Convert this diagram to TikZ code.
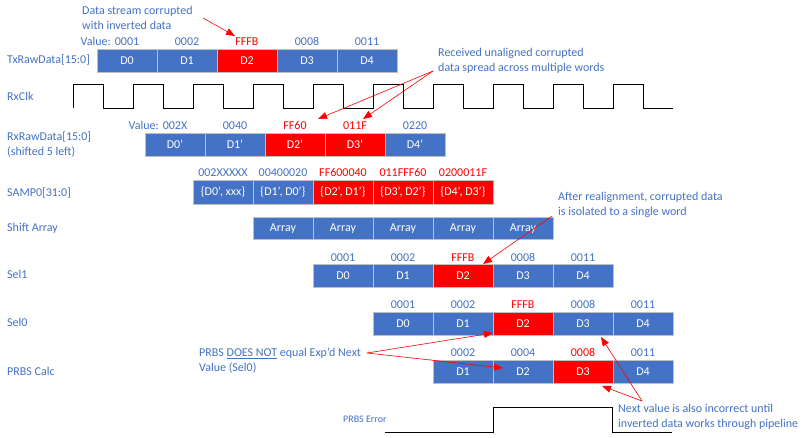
\documentclass[tikz,border=0pt]{standalone}
\usepackage{fontspec}
\setmainfont{Carlito}
\usetikzlibrary{arrows.meta}
\definecolor{obl}{HTML}{4472C4}
\definecolor{ored}{HTML}{FF0000}
\definecolor{obrd}{HTML}{BFBFBF}
\begin{document}
\begin{tikzpicture}[x=1pt,y=-1pt,
  every node/.style={inner sep=0pt, font=\fontsize{12}{14.3}\selectfont},
  cell/.style={draw=obrd, line width=0.9pt, minimum width=60pt, minimum height=23pt, text=white, text height=7.8pt, text depth=0pt},
  cb/.style={cell, fill=obl},
  cr/.style={cell, fill=ored},
  val/.style={text height=7.8pt, text depth=0pt},
  vb/.style={val, text=obl},
  vr/.style={val, text=ored},
  lbl/.style={anchor=west, text=obl, text height=7.8pt, text depth=0pt},
  note/.style={anchor=base west, text=obl, align=left},
  wave/.style={draw=black, line width=1pt},
  callout/.style={draw=ored, line width=0.6pt, -{Triangle[length=9pt,width=7pt]}}
]
\fill[white] (0,0) rectangle (805,437);
\useasboundingbox (0,0) rectangle (805,437);

% row labels
\node[lbl] (lTx) at (7,60) {TxRawData[15:0]};
\node[lbl] (lClk) at (7,97) {RxClk};
\node[note] (lRx) at (7,155) {RxRawData[15:0]\\(shifted 5 left)};
\node[lbl] (lSamp) at (7,193) {SAMP0[31:0]};
\node[lbl] (lShift) at (7,228) {Shift Array};
\node[lbl] (lSel1) at (7,275) {Sel1};
\node[lbl] (lSel0) at (7,323) {Sel0};
\node[lbl] (lPrbs) at (7,372) {PRBS Calc};
\node[lbl, font=\fontsize{10}{12}\selectfont] (lErr) at (343,419) {PRBS Error};

% TxRawData
\node[vb, anchor=east] (vTx) at (111,42) {Value:};
\foreach [count=\k from 0] \t/\c/\v in {D0/b/0001,D1/b/0002,D2/r/FFFB,D3/b/0008,D4/b/0011}{
  \node[c\c] (tx\k) at (127+60*\k,60.5) {\t};
  \node[v\c] (txv\k) at (127+60*\k,42) {\v};
}

% RxClk
\draw[wave] (73,108) \foreach \i in {0,...,9}{ -- ++(0,-24) -- ++(30,0) -- ++(0,24) -- ++(30,0)};

% RxRawData
\node[vb, anchor=east] (vRx) at (159,126) {Value:};
\foreach [count=\k from 0] \t/\c/\v in {D0'/b/002X,D1'/b/0040,D2'/r/FF60,D3'/r/011F,D4'/b/0220}{
  \node[c\c] (rx\k) at (175+60*\k,144.5) {\t};
  \node[v\c] (rxv\k) at (175+60*\k,126) {\v};
}

% SAMP0
\foreach [count=\k from 0] \t/\c/\v in {{\{D0', xxx\}}/b/002XXXXX,{\{D1', D0'\}}/b/00400020,{\{D2', D1'\}}/r/FF600040,{\{D3', D2'\}}/r/011FFF60,{\{D4', D3'\}}/r/0200011F}{
  \node[c\c, minimum height=24pt] (sp\k) at (223+60*\k,192) {\t};
  \node[v\c] (spv\k) at (223+60*\k,173) {\v};
}

% Shift Array
\foreach \k in {0,...,4}{
  \node[cb, minimum height=22pt] (sa\k) at (283+60*\k,228) {Array};
}

% Sel1
\foreach [count=\k from 0] \t/\c/\v in {D0/b/0001,D1/b/0002,D2/r/FFFB,D3/b/0008,D4/b/0011}{
  \node[c\c] (sa1\k) at (343+60*\k,275.5) {\t};
  \node[v\c] (sav1\k) at (343+60*\k,258) {\v};
}

% Sel0
\foreach [count=\k from 0] \t/\c/\v in {D0/b/0001,D1/b/0002,D2/r/FFFB,D3/b/0008,D4/b/0011}{
  \node[c\c] (sb\k) at (403+60*\k,323.5) {\t};
  \node[v\c] (sbv\k) at (403+60*\k,305) {\v};
}

% PRBS Calc
\foreach [count=\k from 0] \t/\c/\v in {D1/b/0002,D2/b/0004,D3/r/0008,D4/b/0011}{
  \node[c\c] (pc\k) at (463+60*\k,371.5) {\t};
  \node[v\c] (pcv\k) at (463+60*\k,353) {\v};
}

% PRBS Error
\draw[wave] (385,432) -- (493,432) -- (493,407) -- (612,407) -- (612,432) -- (672,432);

% callouts
\node[note] (n1) at (82,29) {Data stream corrupted\\with inverted data};
\node[note] (n2) at (438,71) {Received unaligned corrupted\\data spread across multiple words};
\node[note] (n3) at (558,215) {After realignment, corrupted data\\is isolated to a single word};
\node[note] (n4) at (199,371) {PRBS \underline{DOES NOT} equal Exp'd Next\\Value (Sel0)};
\node[note] (n5) at (618,427) {Next value is also incorrect until\\inverted data works through pipeline};

\coordinate (a1s) at (203,18);  \coordinate (a1t) at (235,36);
\coordinate (a2s) at (433,71);  \coordinate (a2t1) at (318,119); \coordinate (a2t2) at (363,119);
\coordinate (a3s) at (552,216); \coordinate (a3t) at (483,264);
\coordinate (a4s) at (367,353); \coordinate (a4t1) at (493,333); \coordinate (a4t2) at (503,368);
\coordinate (a5s) at (642,401); \coordinate (a5t1) at (601,337); \coordinate (a5t2) at (602,386);

\draw[callout] (a1s) -- (a1t);
\draw[callout] (a2s) -- (a2t1);
\draw[callout] (a2s) -- (a2t2);
\draw[callout] (a3s) -- (a3t);
\draw[callout] (a4s) -- (a4t1);
\draw[callout] (a4s) -- (a4t2);
\draw[callout] (a5s) -- (a5t1);
\draw[callout] (a5s) -- (a5t2);
\end{tikzpicture}
\end{document}
